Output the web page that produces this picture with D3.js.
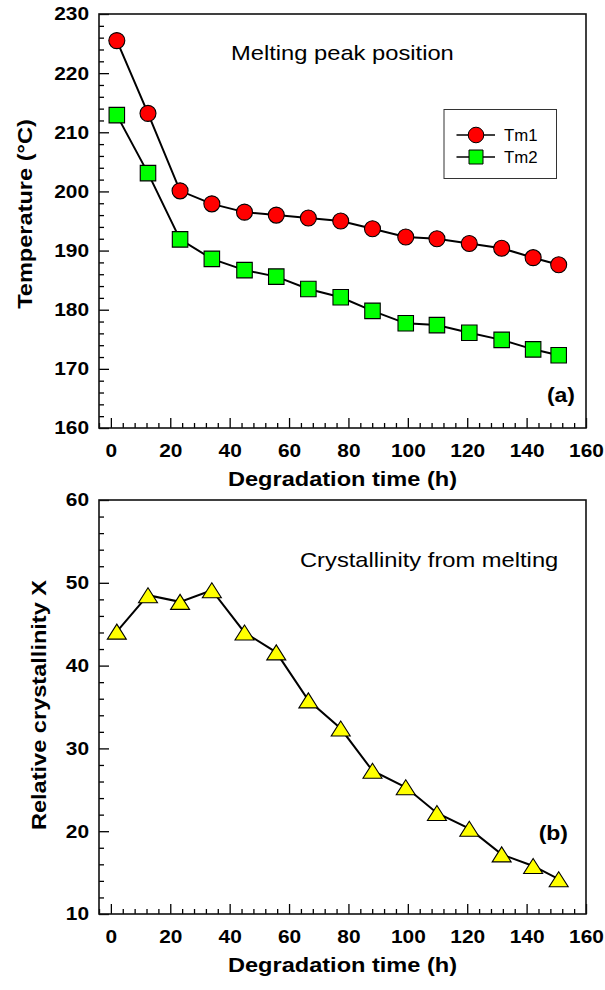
<!DOCTYPE html>
<html>
<head>
<meta charset="utf-8">
<script src="https://cdn.jsdelivr.net/npm/d3@7"></script>
<style>
  body { margin: 0; background: #fff; }
  svg text { font-family: Arial, "Liberation Sans", Helvetica, sans-serif; fill: #000; }
</style>
</head>
<body>
<svg id="chart" width="605" height="990"></svg>
<script>
// Degradation time (h) at which each sample was measured
const hours = [2, 12.5, 23.3, 34, 45, 55.7, 66.5, 77.4, 88.1, 99.3, 109.8, 120.7, 131.6, 142.2, 150.8];
// Melting peak temperatures (°C)
const tm1 = [225.5, 213.2, 200.1, 197.9, 196.5, 196.0, 195.5, 195.0, 193.7, 192.3, 192.0, 191.2, 190.4, 188.8, 187.6];
const tm2 = [212.9, 203.1, 191.9, 188.6, 186.7, 185.6, 183.5, 182.1, 179.8, 177.7, 177.4, 176.1, 174.9, 173.3, 172.3];
// Relative crystallinity from the melting endotherm (%)
const crystallinity = [44.1, 48.5, 47.7, 49.1, 44.0, 41.6, 35.8, 32.4, 27.3, 25.3, 22.2, 20.3, 17.2, 15.8, 14.2];

// Axis ticks
const timeTicks = [0, 20, 40, 60, 80, 100, 120, 140, 160];
const tempTicks = [160, 170, 180, 190, 200, 210, 220, 230];
const crystTicks = [10, 20, 30, 40, 50, 60];
const legendNames = ["Tm1", "Tm2"];

const svg = d3.select("#chart");
const SX = 1.15;           // horizontal widening of the lettering
const LEFT = 99, RIGHT = 586;

const x = d3.scaleLinear().domain([-4, 160]).range([LEFT, RIGHT]);
const yTemp = d3.scaleLinear().domain([160, 230]).range([428, 14]);
const yCryst = d3.scaleLinear().domain([10, 60]).range([914, 500]);

// Text placed at (tx, ty), widened along its reading direction
function label(parent, tx, ty, str, o = {}) {
  const g = parent.append("g")
    .attr("transform", `translate(${tx},${ty})${o.rotate ? " rotate(" + o.rotate + ")" : ""}`);
  g.append("text")
    .attr("transform", `scale(${o.sx || SX},1)`)
    .attr("text-anchor", o.anchor || "start")
    .attr("font-size", o.size || 18)
    .attr("font-weight", o.bold ? "bold" : "normal")
    .text(str);
  return g;
}

function widenTickText(sel, sx) {
  sel.selectAll(".tick text").each(function () {
    const t = d3.select(this);
    const tx = +t.attr("x") || 0;
    t.attr("x", tx / sx).attr("transform", `scale(${sx},1)`);
  });
}

function panel(y, yMajor, yMinorStep) {
  const g = svg.append("g");
  const [yBottom, yTop] = y.range();

  // bottom axis: major + minor ticks pointing inward
  const xMinor = d3.range(-4, 161, 4).filter(v => v % 20 !== 0);
  g.append("g")
    .attr("transform", `translate(0,${yBottom})`)
    .call(d3.axisBottom(x).tickValues(xMinor).tickSize(-5).tickFormat(""))
    .call(s => s.select(".domain").remove());
  const xa = g.append("g")
    .attr("transform", `translate(0,${yBottom})`)
    .call(d3.axisBottom(x).tickValues(timeTicks).tickSize(-10).tickPadding(15.5).tickFormat(d3.format("d")))
    .call(s => s.select(".domain").remove());

  // left axis
  const [y0, y1] = y.domain();
  const yMinor = d3.range(y0, y1 + 0.001, yMinorStep).filter(v => yMajor.indexOf(v) < 0);
  g.append("g")
    .attr("transform", `translate(${LEFT},0)`)
    .call(d3.axisLeft(y).tickValues(yMinor).tickSize(-5).tickFormat(""))
    .call(s => s.select(".domain").remove());
  const ya = g.append("g")
    .attr("transform", `translate(${LEFT},0)`)
    .call(d3.axisLeft(y).tickValues(yMajor).tickSize(-10).tickPadding(10).tickFormat(d3.format("d")))
    .call(s => s.select(".domain").remove());

  [xa, ya].forEach(a => {
    a.selectAll(".tick text")
      .attr("font-size", 18.5).attr("font-weight", "bold")
      .attr("font-family", 'Arial, "Liberation Sans", sans-serif').attr("fill", "#000");
    widenTickText(a, 1.13);
  });
  g.selectAll(".tick line").attr("stroke", "#000").attr("stroke-width", 1.3);

  // frame
  g.append("rect")
    .attr("x", LEFT).attr("y", yTop)
    .attr("width", RIGHT - LEFT).attr("height", yBottom - yTop)
    .attr("fill", "none").attr("stroke", "#111").attr("stroke-width", 1.6);

  // x title
  label(g, (LEFT + RIGHT) / 2, yBottom + 58, "Degradation time (h)",
        { anchor: "middle", size: 20.5, bold: true });
  return g;
}

const line = y => d3.line().x((d, i) => x(hours[i])).y(d => y(d));

// ---------- (a) melting peak positions ----------
const pa = panel(yTemp, tempTicks, 2);
label(pa, 32, 214, "Temperature (°C)", { anchor: "middle", size: 20.5, bold: true, rotate: -90 });
label(pa, 231, 60, "Melting peak position", { size: 21, sx: 1.13 });
label(pa, 575, 402, "(a)", { anchor: "end", size: 20, bold: true });

[tm1, tm2].forEach(s => {
  pa.append("path").datum(s).attr("d", line(yTemp))
    .attr("fill", "none").attr("stroke", "#000").attr("stroke-width", 2);
});

const circleSym = d3.symbol().type(d3.symbolCircle).size(Math.PI * 8 * 8);
const squareSym = d3.symbol().type(d3.symbolSquare).size(15.5 * 15.5);

pa.append("g").selectAll("path").data(tm1).join("path")
  .attr("d", circleSym)
  .attr("transform", (d, i) => `translate(${x(hours[i])},${yTemp(d)})`)
  .attr("fill", "#ff0000").attr("stroke", "#000").attr("stroke-width", 1.1);

pa.append("g").selectAll("path").data(tm2).join("path")
  .attr("d", squareSym)
  .attr("transform", (d, i) => `translate(${x(hours[i])},${yTemp(d)})`)
  .attr("fill", "#00ff00").attr("stroke", "#000").attr("stroke-width", 1.1);

// legend
const lg = pa.append("g");
lg.append("rect").attr("x", 444).attr("y", 109.5).attr("width", 112.5).attr("height", 69)
  .attr("fill", "#fff").attr("stroke", "#333").attr("stroke-width", 1);
const legendSyms = [
  { sym: d3.symbol().type(d3.symbolCircle).size(Math.PI * 7.8 * 7.8), fill: "#ff0000" },
  { sym: d3.symbol().type(d3.symbolSquare).size(14 * 14), fill: "#00ff00" }
];
legendNames.forEach((name, i) => {
  const cy = 135 + i * 22;
  lg.append("line").attr("x1", 456.5).attr("x2", 495).attr("y1", cy).attr("y2", cy)
    .attr("stroke", "#000").attr("stroke-width", 1.6);
  lg.append("path").attr("d", legendSyms[i].sym)
    .attr("transform", `translate(476,${cy})`)
    .attr("fill", legendSyms[i].fill).attr("stroke", "#000").attr("stroke-width", 1);
  label(lg, 504, cy + 5.5, name, { size: 16, sx: 1.05 });
});

// ---------- (b) relative crystallinity ----------
const pb = panel(yCryst, crystTicks, 2);
label(pb, 46, 705, "Relative crystallinity X", { anchor: "middle", size: 20.5, bold: true, rotate: -90 });
label(pb, 300, 567, "Crystallinity from melting", { size: 21, sx: 1.13 });
label(pb, 568, 840, "(b)", { anchor: "end", size: 20, bold: true });

pb.append("path").datum(crystallinity).attr("d", line(yCryst))
  .attr("fill", "none").attr("stroke", "#000").attr("stroke-width", 2);

// triangle centred on its bounding box: 19 wide, 15 tall
const triPath = "M0,-7.5L9.5,7.5L-9.5,7.5Z";
pb.append("g").selectAll("path").data(crystallinity).join("path")
  .attr("d", triPath)
  .attr("transform", (d, i) => `translate(${x(hours[i])},${yCryst(d)})`)
  .attr("fill", "#ffff00").attr("stroke", "#000").attr("stroke-width", 1.1)
  .attr("stroke-linejoin", "miter");
</script>
</body>
</html>
